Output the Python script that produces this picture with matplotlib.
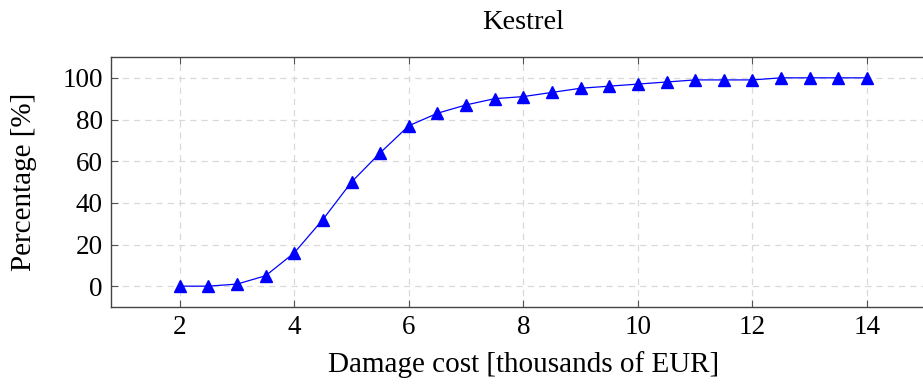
import numpy as np
import matplotlib.pyplot as plt

plt.rcParams['font.family'] = ['Liberation Serif', 'DejaVu Serif']
plt.rcParams['mathtext.fontset'] = 'stix'

# damage cost in thousands of EUR, cumulative percentage
cost = [2, 2.5, 3, 3.5, 4, 4.5, 5, 5.5, 6, 6.5, 7, 7.5, 8, 8.5, 9, 9.5,
        10, 10.5, 11, 11.5, 12, 12.5, 13, 13.5, 14]
percent = [0, 0, 1, 5, 16, 32, 50, 64, 77, 83, 87, 90, 91, 93, 95, 96,
           97, 98, 99, 99, 99, 100, 100, 100, 100]

fig = plt.figure(figsize=(9.23, 3.87), dpi=100)
ax = fig.add_axes([111/923, 1 - 307/387, (935.7 - 111)/923, (307 - 57)/387])

ax.plot(cost, percent, color='blue', lw=0.9, marker='^', ms=8, zorder=3)

ax.set_xticks([2, 4, 6, 8, 10, 12, 14])
ax.set_yticks([0, 20, 40, 60, 80, 100])
ax.set_xlim(0.8, 15.2)
ax.set_ylim(-10, 110)
ax.grid(True, color='#d9d9d9', ls=(0, (5, 4)), lw=0.9)
ax.tick_params(direction='in', top=True, right=True, labelsize=19.5,
               color='#555555', length=5, width=0.8, pad=6)
for s in ax.spines.values():
    s.set_color('#444444')
    s.set_linewidth(1.0)

ax.set_title('Kestrel', fontsize=20.5, pad=20)
ax.set_xlabel('Damage cost [thousands of EUR]', fontsize=21, labelpad=8)
ax.set_ylabel('Percentage [%]', fontsize=21, labelpad=18)

fig.savefig('out.png', dpi=100)
